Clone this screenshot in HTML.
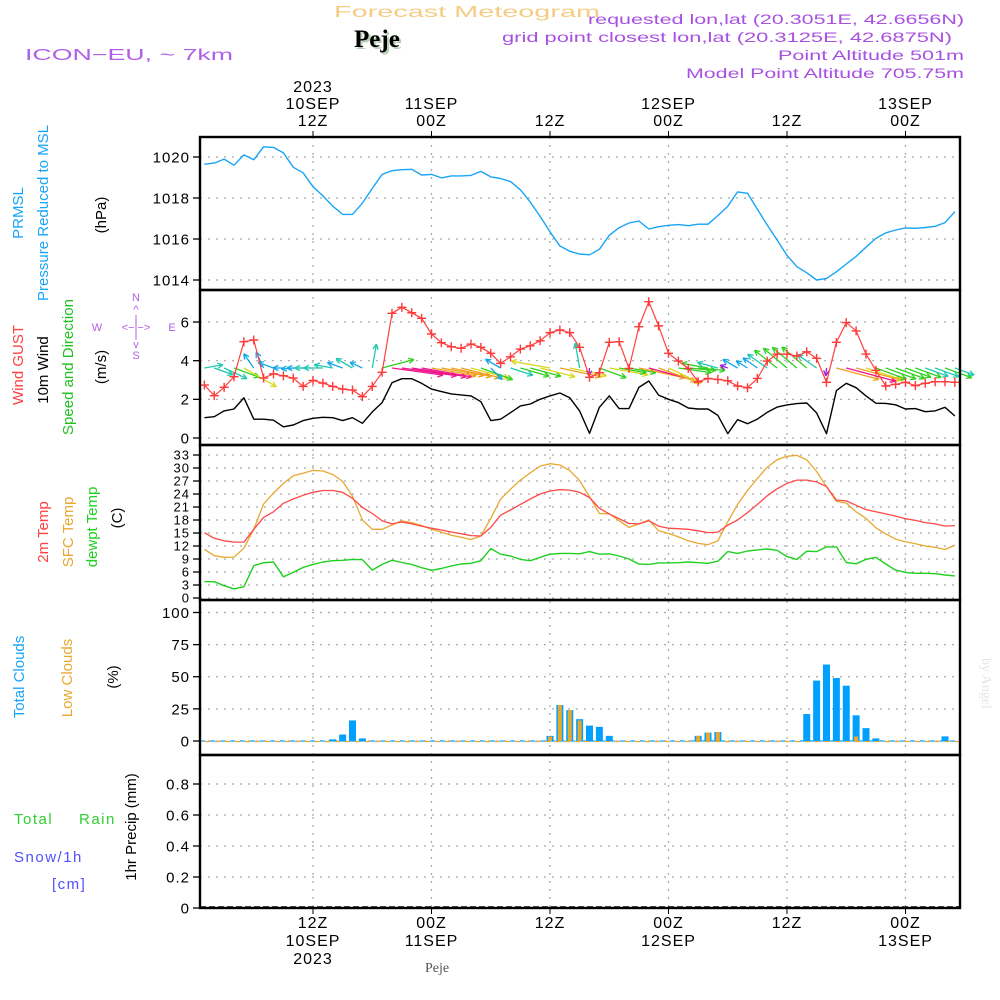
<!DOCTYPE html>
<html><head><meta charset="utf-8"><style>
body{margin:0;background:#fff;}
svg{display:block;font-family:"Liberation Sans",sans-serif;}
</style></head><body>
<svg id="chart" width="1000" height="1000" viewBox="0 0 1000 1000" xmlns="http://www.w3.org/2000/svg">
<rect x="0" y="0" width="1000" height="1000" fill="#fff"/>
<g>
<text x="334" y="17" font-size="16" fill="#f4cc84" textLength="266" lengthAdjust="spacingAndGlyphs">Forecast Meteogram</text>
<text x="356" y="49" font-size="25" font-weight="bold" font-family="Liberation Serif,serif" fill="#b8d0b8">Peje</text>
<text x="354" y="47" font-size="25" font-weight="bold" font-family="Liberation Serif,serif" fill="#000">Peje</text>
<text x="25" y="60" font-size="16" fill="#b060e8" textLength="208" lengthAdjust="spacingAndGlyphs">ICON−EU, ~ 7km</text>
<text x="588" y="24" font-size="14" fill="#a850e0" textLength="376" lengthAdjust="spacingAndGlyphs">requested lon,lat (20.3051E, 42.6656N)</text>
<text x="502" y="42" font-size="14" fill="#a850e0" textLength="450" lengthAdjust="spacingAndGlyphs">grid point closest lon,lat (20.3125E, 42.6875N)</text>
<text x="778" y="60" font-size="14" fill="#a850e0" textLength="186" lengthAdjust="spacingAndGlyphs">Point Altitude 501m</text>
<text x="686" y="78" font-size="14" fill="#a850e0" textLength="278" lengthAdjust="spacingAndGlyphs">Model Point Altitude 705.75m</text>
</g>
<g id="grid"></g>
<g id="marks"></g>
<g id="frames"></g>
<g id="labels"></g>
</svg>
<script>
const hours = [1,2,3,4,5,6,7,8,9,10,11,12,13,14,15,16,17,18,19,20,21,22,23,24,25,26,27,28,29,30,31,32,33,34,35,36,37,38,39,40,41,42,43,44,45,46,47,48,49,50,51,52,53,54,55,56,57,58,59,60,61,62,63,64,65,66,67,68,69,70,71,72,73,74,75,76,77];
const pressure = [1019.65,1019.7,1019.9,1019.6,1020.1,1019.87,1020.5,1020.47,1020.2,1019.5,
1019.23,1018.55,1018.1,1017.6,1017.2,1017.2,1017.75,1018.47,1019.15,1019.33,
1019.38,1019.4,1019.12,1019.15,1018.98,1019.08,1019.08,1019.1,1019.3,1019.03,
1018.95,1018.8,1018.4,1017.8,1017.1,1016.35,1015.66,1015.4,1015.27,1015.23,
1015.5,1016.18,1016.55,1016.78,1016.88,1016.49,1016.6,1016.67,1016.7,1016.65,
1016.72,1016.72,1017.14,1017.6,1018.3,1018.23,1017.45,1016.68,1015.95,1015.2,
1014.65,1014.35,1014.0,1014.08,1014.4,1014.78,1015.15,1015.6,1016.03,1016.3,
1016.44,1016.54,1016.52,1016.56,1016.62,1016.8,1017.33];
const wind10m = [1.05,1.1,1.4,1.5,2.08,0.97,0.97,0.92,0.58,0.67,
0.9,1.02,1.07,1.05,0.9,1.05,0.76,1.35,1.83,2.86,
3.07,3.07,2.83,2.53,2.4,2.28,2.23,2.18,1.88,0.9,
0.97,1.31,1.66,1.76,2.0,2.18,2.33,2.08,1.4,0.24,
1.59,2.18,1.52,1.52,2.62,2.95,2.22,2.0,1.83,1.55,
1.5,1.5,1.17,0.22,0.95,0.74,0.98,1.33,1.6,1.71,
1.78,1.81,1.3,0.22,2.45,2.83,2.6,2.18,1.8,1.79,
1.72,1.5,1.52,1.36,1.4,1.59,1.14];
const windGust = [2.74,2.19,2.62,3.17,4.98,5.07,3.1,3.32,3.22,3.1,
2.67,2.98,2.84,2.67,2.53,2.48,2.14,2.67,3.4,6.45,
6.76,6.48,6.19,5.38,4.93,4.72,4.64,4.86,4.69,4.38,
3.86,4.2,4.6,4.77,5.03,5.45,5.59,5.45,4.69,3.14,
3.38,4.95,4.98,3.6,5.76,7.05,5.8,4.38,3.98,3.6,
2.91,3.08,3.03,2.96,2.69,2.6,3.08,3.98,4.34,4.34,
4.24,4.46,4.12,2.88,4.95,5.97,5.54,4.34,3.5,2.69,
2.78,2.88,2.71,2.83,2.91,2.91,2.88];
const windDirScreen = [-10,20,25,20,30,-125,-115,-160,180,175,
180,180,180,-170,-160,-150,-155,-80,-15,8,
8,9,10,10,10,12,14,15,20,45,
-150,18,16,15,14,-170,12,12,-100,95,
20,10,10,10,12,15,20,25,8,5,
5,-170,-165,-160,-150,-148,-145,-145,-142,-140,
-140,-140,-145,95,15,15,15,18,20,20,
20,20,20,20,20,20,20];
const temp2m = [15.07,13.77,13.2,12.9,12.9,15.85,18.6,19.9,21.85,22.85,
23.7,24.4,24.8,24.8,24.4,23.0,20.9,19.5,17.85,17.1,
17.55,17.1,16.6,16.1,15.7,15.23,14.85,14.4,14.3,16.3,
19.1,20.3,21.6,22.85,24.0,24.7,25.0,24.9,24.4,23.2,
20.7,19.4,18.3,17.2,17.1,17.85,16.6,16.1,16.0,15.85,
15.5,15.1,15.2,16.8,18.0,19.7,21.6,23.6,25.2,26.45,
27.2,27.2,26.8,25.7,22.6,22.4,21.4,20.4,19.9,19.4,
18.9,18.3,17.9,17.4,17.1,16.6,16.7];
const tempSfc = [11.23,9.77,9.4,9.45,11.5,15.85,21.7,24.2,26.45,28.2,
28.8,29.45,29.3,28.5,26.9,23.5,18.0,15.85,15.85,16.85,
17.8,17.4,16.7,15.9,15.2,14.5,14.0,13.5,14.3,18.4,
22.8,25.1,27.2,28.9,30.45,31.0,30.7,29.4,27.1,23.4,
19.5,19.4,17.85,16.3,17.1,18.0,15.5,14.9,14.1,13.2,
12.6,12.3,13.2,17.6,21.6,24.8,27.6,30.2,31.9,32.7,
32.9,31.9,29.2,25.7,22.3,21.9,19.9,18.4,16.2,14.8,
13.6,13.0,12.5,12.0,11.7,11.2,12.2];
const dewpt = [3.77,3.77,2.85,2.1,2.6,7.45,8.15,8.3,4.9,5.9,
7.07,7.75,8.3,8.6,8.7,8.9,8.85,6.45,7.75,8.7,
8.2,7.75,7.0,6.4,6.8,7.4,7.85,8.0,8.6,11.4,
10.1,9.7,8.9,8.6,9.4,10.1,10.3,10.3,10.2,10.7,
10.1,10.2,9.7,9.0,7.85,7.75,8.1,8.1,8.15,8.3,
8.15,8.0,8.5,10.7,10.3,10.85,11.1,11.3,11.0,9.55,
8.9,10.8,10.7,11.8,11.8,8.2,7.9,8.9,9.4,7.85,
6.45,5.9,5.7,5.7,5.6,5.3,5.1];
const totalClouds = [0,0,0,0,0,0,0,0,0,0,
0,0,0,1.3,5,16,2,0,0,0,
0,0,0,0,0,0,0,0,0,0,
0,0,0,0,0,4,28,24,17,12,
11,4,0,0,0,0,0,0,0,0,
4,6.5,7,0,0,0,0,0,0,0,
0,21,47,59.5,49,43,20,10,2,0,
0,0,0,0,0,3.6,0];
const lowClouds = [0,0,0,0,0,0,0,0,0,0,
0,0,0,0,0,0,0,0,0,0,
0,0,0,0,0,0,0,0,0,0,
0,0,0,0,0,3.5,28,24,16,0,
0,0,0,0,0,0,0,0,0,0,
4,6.5,7,0,0,0,0,0,0,0,
0,0,0,0,0,0,3.5,0,0,0,
0,0,0,0,0,0,0];
const precip = [0,0,0,0,0,0,0,0,0,0,0,0,0,0,0,0,0,0,0,0,0,0,0,0,0,0,0,0,0,0,0,0,0,0,0,0,0,0,0,0,0,0,0,0,0,0,0,0,0,0,0,0,0,0,0,0,0,0,0,0,0,0,0,0,0,0,0,0,0,0,0,0,0,0,0,0,0];
const timeTickHours = [12,24,36,48,60,72];
const topTickLabels = [["2023","10SEP","12Z"],["","11SEP","00Z"],["","","12Z"],["","12SEP","00Z"],["","","12Z"],["","13SEP","00Z"]];
const bottomTickLabels = [["12Z","10SEP","2023"],["00Z","11SEP",""],["12Z","",""],["00Z","12SEP",""],["12Z","",""],["00Z","13SEP",""]];
const pressureTicks = [1014,1016,1018,1020];
const windTicks = [0,2,4,6];
const tempTicks = [0,3,6,9,12,15,18,21,24,27,30,33];
const cloudTicks = [0,25,50,75,100];
const precipTicks = [0,0.2,0.4,0.6,0.8];

const NS='http://www.w3.org/2000/svg';
const L=200,R=960;
const xT=t=>313+(t-12)*9.875;
const yP=v=>157+(1020-v)*20.5;
const yW=v=>438-v*19.33;
const yTm=v=>598-v*4.333;
const yC=v=>741-v*1.285;
const yPr=v=>908-v*155;
function el(tag,attrs,parent,txt){const e=document.createElementNS(NS,tag);for(const k in attrs)e.setAttribute(k,attrs[k]);if(txt!==undefined)e.textContent=txt;parent.appendChild(e);return e;}
const grid=document.getElementById('grid'),marks=document.getElementById('marks'),frames=document.getElementById('frames'),labels=document.getElementById('labels');
const panels=[[137,290],[290,445],[445,600],[600,755],[755,908]];
timeTickHours.forEach(h=>{const x=xT(h);
 const g=el('line',{x1:x,x2:x,y1:137,y2:908,stroke:'#a8a8a8','stroke-width':1.2,'stroke-dasharray':'2,6'},grid);
 
 
 const tk=el('line',{x1:x,x2:x,y1:131,y2:137,stroke:'#000'},grid);
 
 
 const tb=el('line',{x1:x,x2:x,y1:908,y2:914,stroke:'#000'},grid);
 
 
});
function hTicks(ticks,yf,fmt,fs,name){ticks.forEach(v=>{const y=yf(v);
 const g=el('line',{x1:L,x2:R,y1:y,y2:y,stroke:'#a8a8a8','stroke-width':1.2,'stroke-dasharray':'2,6'},grid);
 
 
 const tk=el('line',{x1:L-7,x2:L,y1:y,y2:y,stroke:'#000','stroke-width':1.3},grid);
 
 
 const t=el('text',{x:L-10,y:y+fs*0.36,'font-size':fs,'text-anchor':'end',fill:'#000','letter-spacing':1},labels,fmt(v));
 
 
});}
hTicks(pressureTicks,yP,v=>String(v),15,'pressure');
hTicks(windTicks,yW,v=>String(v),15,'wind');
hTicks(tempTicks,yTm,v=>String(v),13,'temp');
hTicks(cloudTicks,yC,v=>String(v),15,'cloud');
hTicks(precipTicks,yPr,v=>v===0?'0':v.toFixed(1),15,'precip');
panels.forEach((p,i)=>{const r=el('rect',{x:L,y:p[0],width:R-L,height:p[1]-p[0],fill:'none',stroke:'#000','stroke-width':2.4},frames);
 
 });
timeTickHours.forEach((h,i)=>{const x=xT(h);
 topTickLabels[i].forEach((s,j)=>{if(!s)return;const t=el('text',{x:x,y:92+j*17,'font-size':16,'text-anchor':'middle',fill:'#000','letter-spacing':1},labels,s);
  
  });
 bottomTickLabels[i].forEach((s,j)=>{if(!s)return;const t=el('text',{x:x,y:928+j*18,'font-size':16,'text-anchor':'middle',fill:'#000','letter-spacing':1},labels,s);
  
  });
});
function polyline(vals,yf,color,name,w){const pts=hours.map((h,i)=>xT(h).toFixed(1)+','+yf(vals[i]).toFixed(1)).join(' ');
 const p=el('polyline',{points:pts,fill:'none',stroke:color,'stroke-width':w||1.3,'stroke-linejoin':'round'},marks);
 
 }
polyline(pressure,yP,'#18a4f8','pressure-line',1.4);
polyline(wind10m,yW,'#000','wind-10m-line',1.4);
function spdColor(s){if(s>=2.7)return '#f0148c';if(s>=2.2)return '#f0a020';if(s>=1.9)return '#d8d820';if(s>=1.5)return '#30d020';if(s>=1.0)return '#20c8b0';if(s>=0.5)return '#10a8e8';return '#a020d8';}
hours.forEach((h,i)=>{const x0=xT(h),y0=368,a=windDirScreen[i]*Math.PI/180,len=Math.max(8,18*wind10m[i]);
 const x1=x0+len*Math.cos(a),y1=y0+len*Math.sin(a),c=spdColor(wind10m[i]);
 const g=el('g',{stroke:c,'stroke-width':1.3,fill:'none'},marks);
 
 
 el('line',{x1:x0,y1:y0,x2:x1,y2:y1},g);
 [0.45,-0.45].forEach(d=>{el('line',{x1:x1,y1:y1,x2:x1-6*Math.cos(a+d),y2:y1-6*Math.sin(a+d)},g);});
});
polyline(windGust,yW,'#ff4040','wind-gust-line',1.2);
hours.forEach((h,i)=>{const x=xT(h),y=yW(windGust[i]);
 const m=el('path',{d:`M${x-4.5},${y}h9M${x},${y-4.5}v9`,stroke:'#ff3838','stroke-width':1.4},marks);
 
 });
polyline(tempSfc,yTm,'#e8a830','sfc-temp-line',1.3);
polyline(temp2m,yTm,'#ff4848','temp-2m-line',1.3);
polyline(dewpt,yTm,'#20d020','dewpoint-line',1.4);
const zl=el('line',{x1:L,x2:R,y1:yC(0),y2:yC(0),stroke:'#18a4f8','stroke-width':1.2,'stroke-dasharray':'5,5'},marks);


const zl2=el('line',{x1:L+5,x2:R,y1:yC(0)+0.5,y2:yC(0)+0.5,stroke:'#e8a830','stroke-width':1.2,'stroke-dasharray':'5,5'},marks);


hours.forEach((h,i)=>{const x=xT(h);
 if(totalClouds[i]>0){const b=el('rect',{x:x-3.5,y:yC(totalClouds[i]),width:7,height:yC(0)-yC(totalClouds[i]),fill:'#00a0ff'},marks);
  
  }
 if(lowClouds[i]>0){const b=el('rect',{x:x-2,y:yC(lowClouds[i]),width:4,height:yC(0)-yC(lowClouds[i]),fill:'#e8a830'},marks);
  
  }
 if(precip[i]>0){const b=el('rect',{x:x-3.5,y:yPr(precip[i]),width:7,height:yPr(0)-yPr(precip[i]),fill:'#20d020'},marks);
  
  }
});
const pz=el('line',{x1:L,x2:R,y1:yPr(0)-1,y2:yPr(0)-1,stroke:'#000','stroke-width':1.5,'stroke-dasharray':'6,3'},marks);


</script>
<svg style="position:absolute;left:0;top:0" width="1000" height="1000" font-family="Liberation Sans,sans-serif">
<g font-size="15">
<text transform="translate(23,213) rotate(-90)" text-anchor="middle" fill="#18a4f8">PRMSL</text>
<text transform="translate(48,213) rotate(-90)" text-anchor="middle" fill="#18a4f8">Pressure Reduced to MSL</text>
<text transform="translate(106,215) rotate(-90)" text-anchor="middle" fill="#000">(hPa)</text>
<text transform="translate(23,365) rotate(-90)" text-anchor="middle" fill="#ff4040">Wind GUST</text>
<text transform="translate(48,370) rotate(-90)" text-anchor="middle" fill="#000">10m Wind</text>
<text transform="translate(73,367) rotate(-90)" text-anchor="middle" fill="#20c020">Speed and Direction</text>
<text transform="translate(106,367) rotate(-90)" text-anchor="middle" fill="#000">(m/s)</text>
<text transform="translate(48,532) rotate(-90)" text-anchor="middle" fill="#ff4040">2m Temp</text>
<text transform="translate(73,532) rotate(-90)" text-anchor="middle" fill="#e8a830">SFC Temp</text>
<text transform="translate(97,527) rotate(-90)" text-anchor="middle" fill="#20d020">dewpt Temp</text>
<text transform="translate(122,518) rotate(-90)" text-anchor="middle" fill="#000">(C)</text>
<text transform="translate(24,677) rotate(-90)" text-anchor="middle" fill="#18a4f8">Total Clouds</text>
<text transform="translate(72,678) rotate(-90)" text-anchor="middle" fill="#e8a830">Low Clouds</text>
<text transform="translate(118,677) rotate(-90)" text-anchor="middle" fill="#000">(%)</text>
<text transform="translate(136,827) rotate(-90)" text-anchor="middle" fill="#000">1hr Precip (mm)</text>
</g>
<text x="14" y="824" font-size="15" fill="#30d030" letter-spacing="1.5">Total</text>
<text x="79" y="824" font-size="15" fill="#30d030" letter-spacing="1.5">Rain</text>
<text x="14" y="862" font-size="15" fill="#5050ff" letter-spacing="1.5">Snow/1h</text>
<text x="52" y="889" font-size="15" fill="#5050ff" letter-spacing="1.5">[cm]</text>
<g fill="#b060e8" font-size="11" text-anchor="middle">
<text x="136" y="301">N</text><text x="136" y="313">^</text>
<text x="97" y="331">W</text><text x="172" y="331">E</text>
<text x="136" y="331">&lt;−|−&gt;</text>
<text x="136" y="348">v</text><text x="136" y="359">S</text>
<line x1="136" y1="315" x2="136" y2="340" stroke="#b060e8"/>
</g>
<text x="425" y="972" font-size="14" font-family="Liberation Serif,serif" fill="#555">Peje</text>
<text transform="translate(982,658) rotate(90)" font-size="14" font-family="Liberation Serif,serif" fill="#e4e4e4">by Angel</text>
</svg>
</body></html>
